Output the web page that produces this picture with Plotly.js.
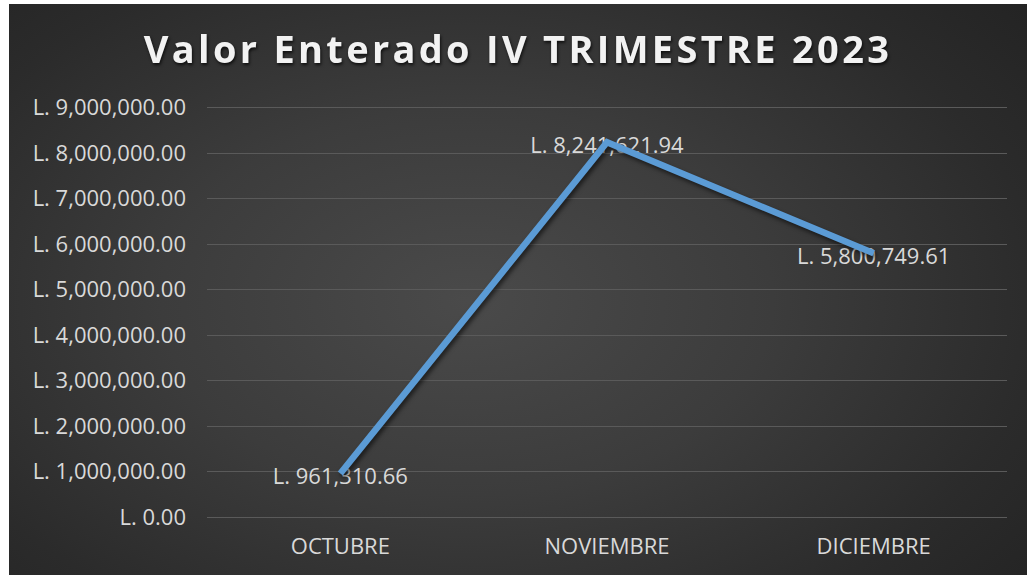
<!DOCTYPE html>
<html>
<head>
<meta charset="utf-8">
<script src="https://cdn.plot.ly/plotly-3.0.1.min.js"></script>
<style>
  html, body { margin: 0; padding: 0; background: #ffffff; width: 1027px; height: 575px; overflow: hidden; }
  #chart {
    position: absolute; left: 9px; top: 4px; width: 1018px; height: 571px;
    background: radial-gradient(ellipse 75% 85% at 45% 52%, #4a4a4a 0%, #3c3c3c 40%, #2b2b2b 75%, #222222 100%);
  }
  .gtitle { letter-spacing: 3.3px; filter: drop-shadow(1px 2px 1.5px rgba(0,0,0,0.7)); }
  .scatterlayer .js-line { filter: drop-shadow(2px 3px 2px rgba(0,0,0,0.55)); }
</style>
</head>
<body>
<div id="chart"></div>
<script>
const months = ["OCTUBRE", "NOVIEMBRE", "DICIEMBRE"];
const valores = [961310.66, 8241621.94, 5800749.61];
const yTicks = [0, 1000000, 2000000, 3000000, 4000000, 5000000, 6000000, 7000000, 8000000, 9000000];
const yTickText = ["L. 0.00", "L. 1,000,000.00", "L. 2,000,000.00", "L. 3,000,000.00", "L. 4,000,000.00",
  "L. 5,000,000.00", "L. 6,000,000.00", "L. 7,000,000.00", "L. 8,000,000.00", "L. 9,000,000.00"];
const chartTitle = "Valor Enterado IV TRIMESTRE 2023";

const fontFam = "'Open Sans', 'Liberation Sans', sans-serif";
const txtColor = "#d9d9d9";

const yRange = [-60000, 9060000];
// labels sit a few pixels below each point (Excel centred label look)
const labelShift = 120000;

// base trace anchors the main x/y axes (draws nothing visible)
const baseTrace = {
  x: months, y: valores, type: "scatter", mode: "none",
  hoverinfo: "skip", showlegend: false
};
const labelTrace = {
  x: months, y: valores, type: "scatter", mode: "text", yaxis: "y2",
  texttemplate: "L. %{y:,.2f}", textposition: "middle center",
  textfont: { family: fontFam, size: 22, color: txtColor },
  hoverinfo: "skip", showlegend: false, cliponaxis: false
};
const lineTrace = {
  x: months, y: valores, type: "scatter", mode: "lines", yaxis: "y3",
  line: { color: "#5b9bd5", width: 6.5 },
  hoverinfo: "skip", showlegend: false, cliponaxis: false
};

const layout = {
  width: 1018, height: 571,
  paper_bgcolor: "rgba(0,0,0,0)", plot_bgcolor: "rgba(0,0,0,0)",
  margin: { l: 198, r: 20, t: 101, b: 55 },
  title: {
    text: chartTitle, x: 0.5, xanchor: "center",
    y: 1 - 46 / 571, yref: "container", yanchor: "middle",
    font: { family: fontFam, size: 38, color: "#f2f2f2", weight: "bold" }
  },
  xaxis: {
    type: "category", range: [-0.5, 2.5], showgrid: false, zeroline: false,
    showline: false, ticks: "", ticklabelstandoff: 11,
    tickfont: { family: fontFam, size: 22, color: txtColor }
  },
  yaxis: {
    range: yRange, tickvals: yTicks, ticktext: yTickText,
    showgrid: true, gridcolor: "#5a5a5a", gridwidth: 1, zeroline: false, showline: false,
    ticks: "", ticklabelstandoff: 20,
    tickfont: { family: fontFam, size: 22, color: txtColor }
  },
  yaxis2: {
    overlaying: "y", visible: false,
    range: [yRange[0] + labelShift, yRange[1] + labelShift]
  },
  yaxis3: {
    overlaying: "y", visible: false,
    range: yRange
  }
};

Plotly.newPlot("chart", [baseTrace, labelTrace, lineTrace], layout, { displayModeBar: false, staticPlot: true });
</script>
</body>
</html>
